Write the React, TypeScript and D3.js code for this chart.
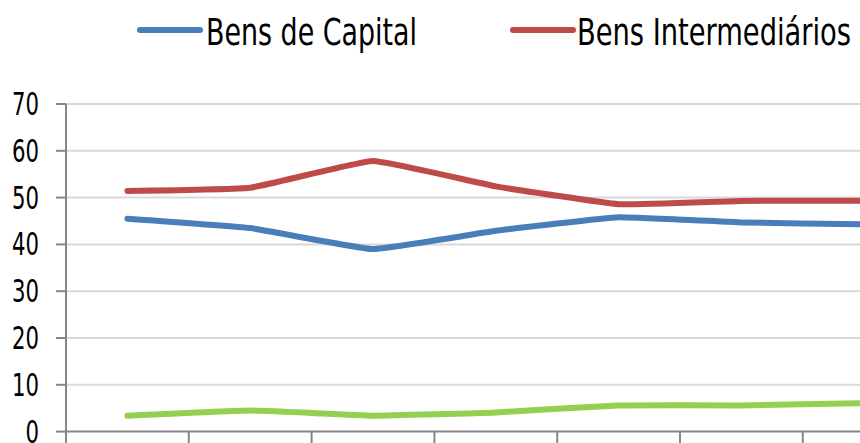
import React from "react";
import { scaleBand, scaleLinear, line, curveCardinal } from "d3";

// periods (their labels fall below the visible area)
const categories = ["1", "2", "3", "4", "5", "6", "7"];
const bensCapital = [45.5, 43.5, 39.0, 42.9, 45.8, 44.7, 44.3];
const bensIntermediarios = [51.4, 52.1, 57.8, 52.4, 48.6, 49.3, 49.3];
const bensConsumo = [3.4, 4.5, 3.4, 4.1, 5.6, 5.6, 6.1];
const yTicks = [0, 10, 20, 30, 40, 50, 60, 70];

const seriesList = [
  { name: "Bens de Capital", values: bensCapital, color: "#4a7ebb" },
  { name: "Bens Intermediários", values: bensIntermediarios, color: "#be4b48" },
  { name: "Bens de Consumo", values: bensConsumo, color: "#92d050" },
];

const W = 860;
const H = 443;
const font = "'Liberation Sans Narrow', 'DejaVu Sans Condensed', 'Open Sans', sans-serif";

export default function App() {
  const x = scaleBand<string>().domain(categories).range([66, 66 + 122.8 * categories.length]);
  const y = scaleLinear().domain([0, 70]).range([431.6, 104]);

  const lineGen = line<number>()
    .x((_, i) => (x(categories[i]) as number) + x.bandwidth() / 2)
    .y((d) => y(d))
    .curve(curveCardinal.tension(0.7));

  return (
    <svg
      width={W}
      height={H}
      style={{ position: "absolute", left: 0, top: 0, background: "#fff" }}
    >
      <rect width={W} height={H} fill="#fff" />

      {/* grid */}
      {yTicks.slice(1).map((t) => (
        <line key={t} x1={66} x2={W} y1={y(t)} y2={y(t)} stroke="#d9d9d9" strokeWidth={2} />
      ))}

      {/* y axis */}
      <line x1={66} x2={66} y1={y(70)} y2={y(0)} stroke="#868686" strokeWidth={2} />
      {yTicks.map((t) => (
        <g key={t}>
          <line x1={56} x2={66} y1={y(t)} y2={y(t)} stroke="#868686" strokeWidth={2} />
          <text
            x={39}
            y={y(t) + 11}
            textAnchor="end"
            fontFamily={font}
            fontSize={32}
            fill="#000"
            textLength={String(t).length * 13.5}
            lengthAdjust="spacingAndGlyphs"
          >
            {t}
          </text>
        </g>
      ))}

      {/* x axis */}
      <line x1={66} x2={W} y1={y(0)} y2={y(0)} stroke="#868686" strokeWidth={2} />
      {categories.map((c) => (
        <line
          key={c}
          x1={x(c) as number}
          x2={x(c) as number}
          y1={y(0)}
          y2={y(0) + 12}
          stroke="#868686"
          strokeWidth={2}
        />
      ))}

      {/* series */}
      {seriesList.map((s) => (
        <path
          key={s.name}
          d={lineGen(s.values) || ""}
          fill="none"
          stroke={s.color}
          strokeWidth={6}
          strokeLinecap="round"
          strokeLinejoin="round"
        />
      ))}

      {/* legend */}
      {[
        { s: seriesList[0], x0: 140, tx: 206, tw: 211 },
        { s: seriesList[1], x0: 513, tx: 577, tw: 274 },
      ].map(({ s, x0, tx, tw }) => (
        <g key={s.name}>
          <line x1={x0} x2={x0 + 60} y1={30} y2={30} stroke={s.color} strokeWidth={6} strokeLinecap="round" />
          <text
            x={tx}
            y={45}
            fontFamily={font}
            fontSize={38}
            fill="#000"
            textLength={tw}
            lengthAdjust="spacingAndGlyphs"
          >
            {s.name}
          </text>
        </g>
      ))}
    </svg>
  );
}
